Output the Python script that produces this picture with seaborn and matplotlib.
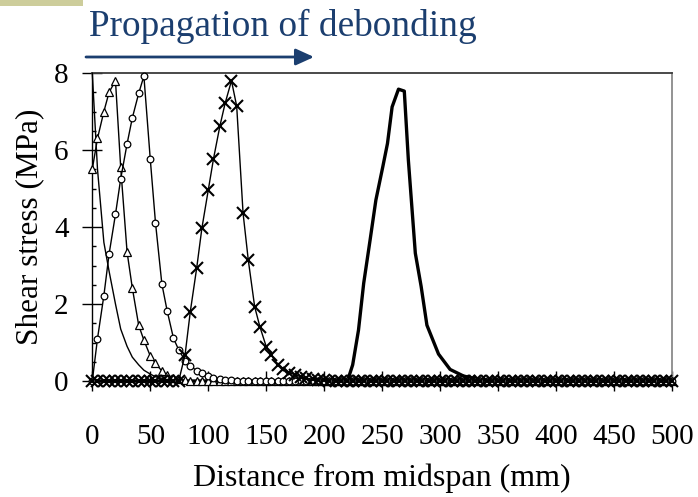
import matplotlib
matplotlib.use("Agg")
import matplotlib.pyplot as plt
import seaborn as sns
from matplotlib.ticker import MultipleLocator
from matplotlib.patches import Rectangle, FancyArrowPatch

# Mesh positions along the plate (mm from midspan)
mesh_x = [
    0, 4.5, 10, 14.5, 20, 24.5, 30, 34.5, 40, 44.5,
    50, 54.5, 60, 64.5, 70, 74.5, 80, 84.5, 90, 94.5,
    100, 104.5, 110, 114.5, 120, 124.5, 130, 134.5, 140, 144.5,
    150, 154.5, 160, 164.5, 170, 174.5, 180, 184.5, 190, 194.5,
    200, 204.5, 210, 214.5, 220, 224.5, 230, 234.5, 240, 244.5,
    250, 254.5, 260, 264.5, 270, 274.5, 280, 284.5, 290, 294.5,
    300, 304.5, 310, 314.5, 320, 324.5, 330, 334.5, 340, 344.5,
    350, 354.5, 360, 364.5, 370, 374.5, 380, 384.5, 390, 394.5,
    400, 404.5, 410, 414.5, 420, 424.5, 430, 434.5, 440, 444.5,
    450, 454.5, 460, 464.5, 470, 474.5, 480, 484.5, 490, 494.5,
    500,
]

# Interfacial shear stress (MPa) at successive debonding stages
stage1 = [8.0, 5.5, 3.6, 2.85, 2.0, 1.35, 0.9, 0.62, 0.42, 0.28,
          0.18, 0.11, 0.07, 0.04, 0.02] + [0.0] * 86
stage2 = [5.5, 6.3, 7.0, 7.5, 7.8, 5.55, 3.35, 2.42, 1.45, 1.06,
          0.65, 0.46, 0.26, 0.16, 0.08, 0.04, 0.02] + [0.0] * 84
stage3 = [0.0, 1.1, 2.22, 3.3, 4.33, 5.25, 6.16, 6.83, 7.47, 7.92,
          5.76, 4.11, 2.52, 1.83, 1.11, 0.81, 0.53, 0.39, 0.27, 0.2,
          0.13, 0.08, 0.05, 0.03, 0.02] + [0.0] * 76
stage4 = [0.0] * 16 + [0.68, 1.80, 2.93, 3.97, 4.96, 5.77, 6.62, 7.21, 7.80, 7.14,
                       4.36, 3.14, 1.93, 1.41, 0.89, 0.68, 0.42, 0.32, 0.22, 0.16,
                       0.11, 0.07, 0.05, 0.03, 0.02] + [0.0] * 60
stage5_x = [0, 220, 224.5, 229.5, 234, 239.5, 244.5, 250.5, 254.5, 258.5,
            264, 269, 272.5, 278.5, 283.5, 288.5, 298.5, 308.5, 320, 330,
            340, 500]
stage5 = [0.0, 0.0, 0.42, 1.32, 2.54, 3.66, 4.7, 5.57, 6.17, 7.12,
          7.58, 7.53, 5.74, 3.32, 2.46, 1.45, 0.7, 0.3, 0.13, 0.06,
          0.0, 0.0]

x_ticks = [0, 50, 100, 150, 200, 250, 300, 350, 400, 450, 500]
y_ticks = [0, 2, 4, 6, 8]

navy = "#1b3e6f"

sns.set_theme(style="ticks")
plt.rcParams["font.family"] = ["Liberation Serif", "DejaVu Serif"]
plt.rcParams["text.color"] = "black"
plt.rcParams["axes.labelcolor"] = "black"
plt.rcParams["xtick.color"] = "black"
plt.rcParams["ytick.color"] = "black"

fig = plt.figure(figsize=(6.98, 4.97), dpi=100)
ax = fig.add_axes([0.1322, 0.2334, 0.8309, 0.6197])

common = dict(ax=ax, color="black", sort=False, estimator=None,
              clip_on=False, legend=False)

sns.lineplot(x=stage5_x, y=stage5, linewidth=2.4, zorder=3, **common)
sns.lineplot(x=mesh_x, y=stage1, linewidth=1.0, zorder=4, **common)
sns.lineplot(x=mesh_x, y=stage2, linewidth=1.0, marker="^", markersize=5.6,
             markerfacecolor="white", markeredgecolor="black",
             markeredgewidth=0.9, zorder=5, **common)
sns.lineplot(x=mesh_x, y=stage3, linewidth=1.0, marker="o", markersize=4.8,
             markerfacecolor="white", markeredgecolor="black",
             markeredgewidth=0.9, zorder=6, **common)
sns.lineplot(x=mesh_x, y=stage4, linewidth=1.0, marker="x", markersize=8,
             markeredgecolor="black", markeredgewidth=1.5, zorder=7, **common)

ax.set_xlim(0, 500)
ax.set_ylim(0, 8)
ax.set_xticks(x_ticks)
ax.set_yticks(y_ticks)
ax.yaxis.set_minor_locator(MultipleLocator(0.5))

ax.tick_params(axis="both", which="major", direction="inout", length=14,
               width=1.0, labelsize=21)
ax.tick_params(axis="x", which="major", pad=24)
ax.tick_params(axis="y", which="major", pad=10)
ax.tick_params(axis="y", which="minor", direction="in", length=3.2, width=1.0)
ax.tick_params(axis="x", which="minor", length=0)

ax.set_xlabel("Distance from midspan (mm)", fontsize=23, labelpad=9.5)
ax.set_ylabel("Shear stress (MPa)", fontsize=22.5, labelpad=7)

for side in ("left", "bottom"):
    ax.spines[side].set_color("black")
    ax.spines[side].set_linewidth(1.0)
ax.spines["top"].set_color("#3c3c3c")
ax.spines["right"].set_color("#8a8a8a")
ax.spines["top"].set_linewidth(1.3)
ax.spines["right"].set_linewidth(1.3)
ax.spines["top"].set_visible(True)
ax.spines["right"].set_visible(True)

# Header: title, direction arrow and accent bar
fig.add_artist(Rectangle((0, 1 - 5.7 / 497), 83 / 698, 5.7 / 497,
                         transform=fig.transFigure, facecolor="#cdcd9b",
                         edgecolor="none"))
fig.text(89 / 698, 1 - 36 / 497, "Propagation of debonding", fontsize=26.8,
         color=navy, ha="left", va="baseline")
fig.add_artist(FancyArrowPatch((86 / 698, 1 - 57 / 497), (314 / 698, 1 - 57 / 497),
                               transform=fig.transFigure,
                               arrowstyle="-|>,head_length=1.1,head_width=0.5",
                               mutation_scale=10, linewidth=2.0,
                               color=navy, shrinkA=0, shrinkB=0))

fig.savefig("out.png", dpi=100)
